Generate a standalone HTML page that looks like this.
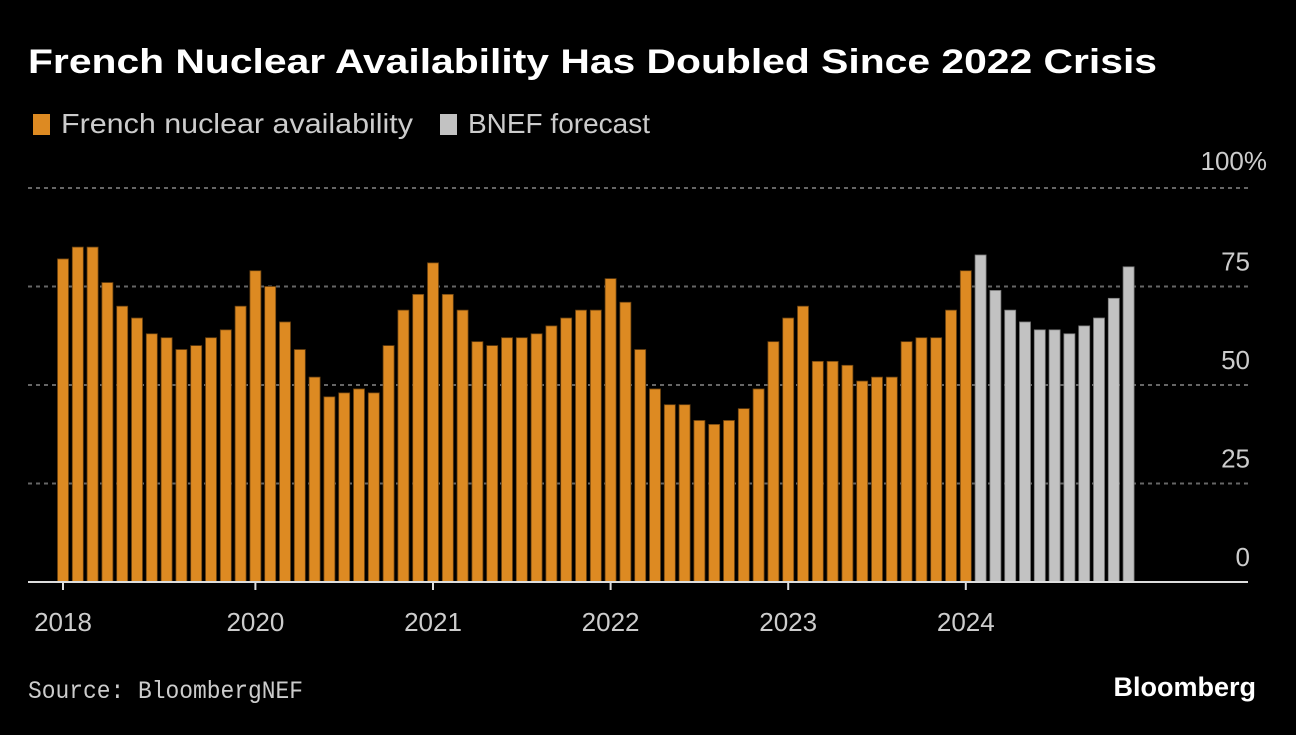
<!DOCTYPE html>
<html><head><meta charset="utf-8"><style>
body{margin:0;background:#000;width:1296px;height:730px;overflow:hidden;font-family:"Liberation Sans",sans-serif;color:#fff}
</style></head><body>
<svg width="1296" height="730" xmlns="http://www.w3.org/2000/svg">
<text x="28" y="73" font-size="34" font-weight="bold" fill="#fff" textLength="1129" lengthAdjust="spacingAndGlyphs">French Nuclear Availability Has Doubled Since 2022 Crisis</text>
<g>
<rect x="33" y="114" width="17" height="21" fill="#dd8a22"/>
<text x="61" y="133" font-size="28" fill="#ccc" textLength="352" lengthAdjust="spacingAndGlyphs">French nuclear availability</text>
<rect x="440" y="114" width="17" height="21" fill="#c2c2c2"/>
<text x="468" y="133" font-size="28" fill="#ccc" textLength="182" lengthAdjust="spacingAndGlyphs">BNEF forecast</text>
</g>
<g id="grid"></g>
<g id="bars"></g>
<g id="xaxis"></g>
<text x="28" y="698" font-size="25" fill="#ccc" font-family="Liberation Mono, monospace" textLength="275" lengthAdjust="spacingAndGlyphs">Source: BloombergNEF</text>
<text x="1256" y="696" font-size="27" font-weight="bold" fill="#fff" text-anchor="end">Bloomberg</text>
</svg>
<script>
const actual=[82,85,85,76,70,67,63,62,59,60,62,64,70,79,75,66,59,52,47,48,49,48,60,69,73,81,73,69,61,60,62,62,63,65,67,69,69,77,71,59,49,45,45,41,40,41,44,49,61,67,70,56,56,55,51,52,52,61,62,62,69,79];
const forecast=[83,74,69,66,64,64,63,65,67,72,80];
const yTicks=[0,25,50,75,100];
const yLabels=["0","25","50","75","100%"];
const xTickIdx=[0,13,25,37,49,61];
const xLabels=["2018","2020","2021","2022","2023","2024"];
const NS="http://www.w3.org/2000/svg";
const y0=582,yScale=3.94,x0=57.5,pitch=14.8,bw=11;
const ys=v=>y0-v*yScale;
const xs=i=>x0+i*pitch;
function mk(t,a,p){const e=document.createElementNS(NS,t);for(const k in a)e.setAttribute(k,a[k]);p.appendChild(e);return e;}
const grid=document.getElementById('grid');
yTicks.forEach((v,i)=>{
  if(v>0){const l=mk('line',{x1:28,x2:1248,y1:ys(v),y2:ys(v),stroke:'#666','stroke-width':2,'stroke-dasharray':'4 4'},grid);
  
  }
  const t=mk('text',{x:v===100?1267:1250,y:ys(v)-(v===100?18:16),'font-size':26,fill:'#ccc','text-anchor':'end'},grid);
  t.textContent=yLabels[i];
  
  
});
const bars=document.getElementById('bars');
const all=actual.concat(forecast);
all.forEach((v,i)=>{
  const f=i>=actual.length;
  const r=mk('rect',{x:xs(i),y:ys(v),width:bw,height:y0-ys(v),fill:f?'#c2c2c2':'#dd8a22',stroke:f?'#777':'#6b4210','stroke-width':0.8},bars);
  
  
});
const xa=document.getElementById('xaxis');
const ax=mk('line',{x1:28,x2:1248,y1:y0,y2:y0,stroke:'#ddd','stroke-width':2},xa);


xTickIdx.forEach((idx,i)=>{
  const cx=xs(idx)+bw/2;
  const tk=mk('line',{x1:cx,x2:cx,y1:y0,y2:y0+8,stroke:'#ddd','stroke-width':2},xa);
  
  
  const t=mk('text',{x:cx,y:631,'font-size':26,fill:'#ccc','text-anchor':'middle'},xa);
  t.textContent=xLabels[i];
  
  
});
</script>
</body></html>
